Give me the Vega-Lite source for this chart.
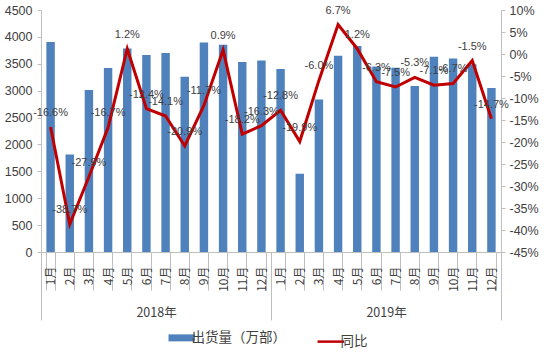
{
  "$schema": "https://vega.github.io/schema/vega-lite/v6.json",
  "width": 460,
  "height": 242,
  "padding": {"left": 4, "top": 4, "right": 2, "bottom": 4},
  "config": {
    "view": {"stroke": null},
    "font": "Liberation Sans",
    "axis": {"labelColor": "#404040", "labelFont": "Liberation Sans", "labelFontSize": 12.5, "grid": false, "domainColor": "#BFBFBF", "tickColor": "#BFBFBF", "title": null},
    "legend": {
      "orient": "bottom", "direction": "horizontal", "title": null,
      "labelFont": "Noto Sans CJK SC", "labelFontSize": 13.5, "labelColor": "#404040", "labelOffset": 3, "labelLimit": 300,
      "symbolType": "stroke", "symbolSize": 700, "columnPadding": 26, "offset": 10,
      "layout": {"anchor": "middle", "bottom": {"anchor": "middle"}}
    }
  },
  "datasets": {
    "months": [
      {"period": "2018年1月", "ship": 3906, "yoy": -0.166},
      {"period": "2018年2月", "ship": 1815, "yoy": -0.387},
      {"period": "2018年3月", "ship": 3012, "yoy": -0.279},
      {"period": "2018年4月", "ship": 3421, "yoy": -0.167},
      {"period": "2018年5月", "ship": 3785, "yoy": 0.012},
      {"period": "2018年6月", "ship": 3665, "yoy": -0.124},
      {"period": "2018年7月", "ship": 3702, "yoy": -0.141},
      {"period": "2018年8月", "ship": 3258, "yoy": -0.209},
      {"period": "2018年9月", "ship": 3895, "yoy": -0.117},
      {"period": "2018年10月", "ship": 3852, "yoy": 0.009},
      {"period": "2018年11月", "ship": 3535, "yoy": -0.182},
      {"period": "2018年12月", "ship": 3560, "yoy": -0.163},
      {"period": "2019年1月", "ship": 3405, "yoy": -0.128},
      {"period": "2019年2月", "ship": 1455, "yoy": -0.199},
      {"period": "2019年3月", "ship": 2835, "yoy": -0.06},
      {"period": "2019年4月", "ship": 3650, "yoy": 0.067},
      {"period": "2019年5月", "ship": 3832, "yoy": 0.012},
      {"period": "2019年6月", "ship": 3450, "yoy": -0.063},
      {"period": "2019年7月", "ship": 3425, "yoy": -0.075},
      {"period": "2019年8月", "ship": 3088, "yoy": -0.053},
      {"period": "2019年9月", "ship": 3630, "yoy": -0.071},
      {"period": "2019年10月", "ship": 3600, "yoy": -0.067},
      {"period": "2019年11月", "ship": 3490, "yoy": -0.015},
      {"period": "2019年12月", "ship": 3050, "yoy": -0.147}
    ],
    "years": [
      {"year": "2018年", "mid": 6},
      {"year": "2019年", "mid": 18}
    ]
  },
  "layer": [
    {
      "data": {"name": "months"},
      "transform": [
        {"calculate": "(datum.yoy < 0 ? '-' : '') + format(abs(datum.yoy), '.1%')", "as": "lbl"}
      ],
      "encoding": {
        "x": {
          "field": "period", "type": "ordinal", "sort": null,
          "scale": {"paddingInner": 0.56, "paddingOuter": 0.28},
          "axis": {
            "orient": "bottom",
            "labelAngle": -90, "labelExpr": "split(datum.value, '年')[1]",
            "tickBand": "extent", "tickSize": 38, "labelPadding": -24,
            "labelFont": "Noto Sans CJK SC", "labelFontSize": 12, "labelOverlap": false
          }
        }
      },
      "layer": [
        {
          "mark": {"type": "bar"},
          "encoding": {
            "y": {
              "field": "ship", "type": "quantitative",
              "scale": {"domain": [0, 4500], "nice": false},
              "axis": {"values": [0, 500, 1000, 1500, 2000, 2500, 3000, 3500, 4000, 4500], "format": "d", "tickSize": 4, "labelPadding": 5}
            },
            "color": {
              "datum": "出货量（万部）",
              "scale": {"domain": ["出货量（万部）", "同比"], "range": ["#4F81BD", "#C00000"]},
              "legend": {
                "encode": {
                  "symbols": {
                    "update": {
                      "stroke": {"signal": "datum.value === '同比' ? '#C00000' : '#4F81BD'"},
                      "strokeWidth": {"signal": "datum.value === '同比' ? 2.5 : 7"},
                      "fill": {"value": "transparent"}
                    }
                  }
                }
              }
            }
          }
        },
        {
          "encoding": {
            "y": {
              "field": "yoy", "type": "quantitative",
              "scale": {"domain": [-0.45, 0.1], "nice": false, "zero": false},
              "axis": {
                "orient": "right",
                "values": [-0.45, -0.4, -0.35, -0.3, -0.25, -0.2, -0.15, -0.1, -0.05, 0, 0.05, 0.1],
                "labelExpr": "(datum.value < -0.0001 ? '-' : '') + format(abs(datum.value), '.0%')",
                "tickSize": 4, "labelPadding": 4
              }
            }
          },
          "layer": [
            {
              "mark": {"type": "line", "strokeWidth": 3},
              "encoding": {"color": {"datum": "同比"}}
            },
            {
              "mark": {"type": "text", "dy": -14, "fontSize": 11, "color": "#404040", "font": "Liberation Sans"},
              "encoding": {"text": {"field": "lbl"}}
            }
          ]
        }
      ],
      "resolve": {"scale": {"y": "independent"}}
    },
    {
      "data": {"name": "years"},
      "mark": {"type": "point", "opacity": 0},
      "encoding": {
        "x": {
          "field": "mid", "type": "quantitative",
          "scale": {"domain": [0, 24], "nice": false, "zero": false},
          "axis": {
            "orient": "bottom",
            "values": [0, 6, 12, 18, 24],
            "labelExpr": "datum.value == 6 ? '2018年' : (datum.value == 18 ? '2019年' : '')",
            "domain": false, "tickSize": 68,
            "tickOpacity": {"condition": {"test": "datum.value % 12 == 0", "value": 1}, "value": 0},
            "labelPadding": -14, "labelOverlap": false, "labelFlush": false,
            "labelFont": "Noto Sans CJK SC", "labelFontSize": 12.5, "labelAngle": 0
          }
        }
      }
    }
  ],
  "resolve": {"scale": {"x": "independent", "y": "independent"}}
}
